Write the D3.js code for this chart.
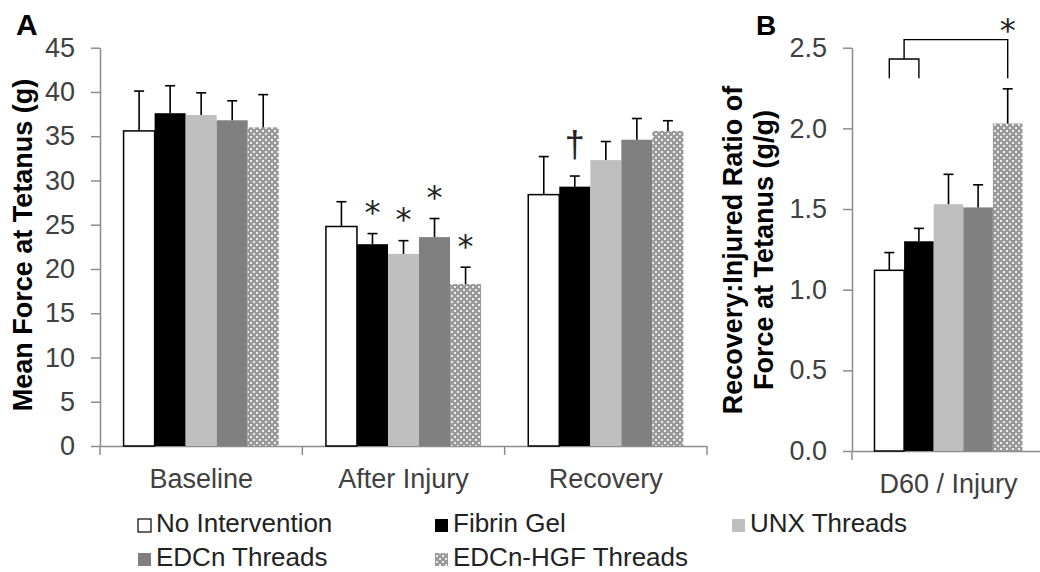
<!DOCTYPE html>
<html>
<head>
<meta charset="utf-8">
<script src="https://cdn.jsdelivr.net/npm/d3@7"></script>
<style>
  body { margin: 0; background: #fff; }
  svg { display: block; font-family: "Liberation Sans", Arial, sans-serif; }
  .axis path, .axis line { stroke: #8c8c8c; stroke-width: 1.5; }
  .axis text { fill: #404040; font-size: 27px; font-family: "Liberation Sans", Arial, sans-serif; }
  .err { stroke: #000; stroke-width: 1.6; fill: none; }
  .title { font-weight: bold; font-size: 27px; fill: #000; }
</style>
</head>
<body>
<div id="chart"></div>
<script>

// panel A: mean force at tetanus (g)
var groups = ["Baseline", "After Injury", "Recovery"];
var seriesNames = ["No Intervention", "Fibrin Gel", "UNX Threads", "EDCn Threads", "EDCn-HGF Threads"];

var noIntervention    = [35.6, 24.8, 28.4];
var noInterventionErr = [4.5, 2.8, 4.3];
var fibrinGel         = [37.6, 22.8, 29.3];
var fibrinGelErr      = [3.1, 1.2, 1.2];
var unxThreads        = [37.4, 21.7, 32.3];
var unxThreadsErr     = [2.5, 1.5, 2.1];
var edcnThreads       = [36.8, 23.6, 34.6];
var edcnThreadsErr    = [2.2, 2.1, 2.4];
var hgfThreads        = [36.0, 18.3, 35.6];
var hgfThreadsErr     = [3.7, 1.9, 1.15];

// significance marks per group, one per series
var marksBaseline    = ["", "", "", "", ""];
var marksAfterInjury = ["", "*", "*", "*", "*"];
var marksRecovery    = ["", "\u2020", "", "", ""];

var forceTicks = [0, 5, 10, 15, 20, 25, 30, 35, 40, 45];

// panel B: recovery : injured ratio
var ratioGroup = ["D60 / Injury"];
var ratioMeans = [1.12, 1.30, 1.53, 1.51, 2.03];
var ratioErr   = [0.11, 0.08, 0.185, 0.14, 0.215];
var ratioTicks = [0, 0.5, 1.0, 1.5, 2.0, 2.5];
// bracket levels (g/g) for the comparison marker
var bracketLow = 2.31, bracketMid = 2.43, bracketTop = 2.55;

var fills = ["#ffffff", "#000000", "#bfbfbf", "#808080", "url(#hatch)"];

var means = [noIntervention, fibrinGel, unxThreads, edcnThreads, hgfThreads];
var errs = [noInterventionErr, fibrinGelErr, unxThreadsErr, edcnThreadsErr, hgfThreadsErr];
var marks = [marksBaseline, marksAfterInjury, marksRecovery];

var rowsA = [];
groups.forEach(function (g, gi) {
    seriesNames.forEach(function (s, si) {
        rowsA.push({ group: g, series: s, si: si, mean: means[si][gi], err: errs[si][gi], mark: marks[gi][si] });
    });
});
var rowsB = seriesNames.map(function (s, si) {
    return { group: ratioGroup[0], series: s, si: si, mean: ratioMeans[si], err: ratioErr[si] };
});

var svg = d3.select("#chart").append("svg")
    .attr("width", 1040)
    .attr("height", 572);

svg.append("rect").attr("width", 1040).attr("height", 572).attr("fill", "#fff");

var pat = svg.append("defs").append("pattern")
    .attr("id", "hatch")
    .attr("patternUnits", "userSpaceOnUse")
    .attr("width", 6).attr("height", 6);
pat.append("rect").attr("width", 6).attr("height", 6).attr("fill", "#9a9a9a");
pat.append("rect").attr("x", 1).attr("y", 1).attr("width", 2).attr("height", 2).attr("fill", "#ececec");
pat.append("rect").attr("x", 4).attr("y", 4).attr("width", 2).attr("height", 2).attr("fill", "#ececec");

function drawPanel(opts) {
    var x = d3.scaleBand().domain(opts.groups).range(opts.xRange);
    var xs = d3.scaleBand().domain(seriesNames).range([0, x.bandwidth()]).paddingOuter(0.76);
    var y = d3.scaleLinear().domain(opts.yDomain).range(opts.yRange);

    var yAxis = d3.axisLeft(y).tickValues(opts.ticks).tickFormat(opts.fmt)
        .tickSize(9).tickSizeOuter(0).tickPadding(16);
    svg.append("g").attr("class", "axis")
        .attr("transform", "translate(" + opts.xRange[0] + ",0)")
        .call(yAxis);

    var xAxis = d3.axisBottom(x).tickSize(0).tickSizeOuter(0).tickPadding(23);
    var gx = svg.append("g").attr("class", "axis")
        .attr("transform", "translate(0," + opts.yRange[0] + ")")
        .call(xAxis);
    // category boundary ticks
    var bounds = opts.groups.map(function (g) { return x(g); }).concat([opts.xRange[1]]);
    gx.selectAll(".bound").data(bounds).enter()
        .append("line").attr("class", "bound")
        .attr("x1", function (d) { return d; }).attr("x2", function (d) { return d; })
        .attr("y1", 0).attr("y2", 9);

    var bars = svg.append("g");
    bars.selectAll("rect").data(opts.rows).enter()
        .append("rect")
        .attr("x", function (d) { return x(d.group) + xs(d.series); })
        .attr("width", xs.bandwidth())
        .attr("y", function (d) { return y(d.mean); })
        .attr("height", function (d) { return y(0) - y(d.mean); })
        .attr("fill", function (d) { return fills[d.si]; })
        .attr("stroke", function (d) { return d.si === 0 ? "#000" : "none"; })
        .attr("stroke-width", 1.5);

    var cx = function (d) { return x(d.group) + xs(d.series) + xs.bandwidth() / 2; };
    var eb = svg.append("g").attr("class", "err");
    eb.selectAll(".v").data(opts.rows).enter()
        .append("line").attr("class", "err")
        .attr("x1", cx).attr("x2", cx)
        .attr("y1", function (d) { return y(d.mean); })
        .attr("y2", function (d) { return y(d.mean + d.err); });
    eb.selectAll(".c").data(opts.rows).enter()
        .append("line").attr("class", "err")
        .attr("x1", function (d) { return cx(d) - 5; })
        .attr("x2", function (d) { return cx(d) + 5; })
        .attr("y1", function (d) { return y(d.mean + d.err); })
        .attr("y2", function (d) { return y(d.mean + d.err); });

    return { x: x, xs: xs, y: y, cx: cx };
}

var A = drawPanel({
    groups: groups, rows: rowsA, xRange: [100, 707], yDomain: [0, 45], yRange: [446, 47.7],
    ticks: forceTicks, fmt: d3.format("d")
});

var B = drawPanel({
    groups: ratioGroup, rows: rowsB, xRange: [852, 1045], yDomain: [0, 2.5], yRange: [451, 47.7],
    ticks: ratioTicks, fmt: d3.format(".1f")
});

// significance marks in panel A
svg.append("g").selectAll("text")
    .data(rowsA.filter(function (d) { return d.mark; })).enter()
    .append("text")
    .attr("x", A.cx)
    .attr("y", function (d) {
        var c = A.y(d.mean + d.err) - 29;
        return d.mark === "*" ? c + 0.58 * 32 : c + 0.27 * 36;
    })
    .attr("text-anchor", "middle")
    .style("font-family", function (d) { return d.mark === "*" ? "DejaVu Sans" : "Liberation Sans"; })
    .style("font-size", function (d) { return d.mark === "*" ? "32px" : "36px"; })
    .attr("fill", "#222")
    .text(function (d) { return d.mark; });

// comparison bracket in panel B
var bx0 = B.cx(rowsB[0]), bx1 = B.cx(rowsB[1]), bx4 = B.cx(rowsB[4]);
var bmid = (bx0 + bx1) / 2;
var br = d3.path();
br.moveTo(bx0, B.y(bracketLow)); br.lineTo(bx0, B.y(bracketMid));
br.lineTo(bx1, B.y(bracketMid)); br.lineTo(bx1, B.y(bracketLow));
br.moveTo(bmid, B.y(bracketMid)); br.lineTo(bmid, B.y(bracketTop));
br.lineTo(bx4, B.y(bracketTop)); br.lineTo(bx4, B.y(bracketLow));
svg.append("path").attr("d", br.toString())
    .attr("fill", "none").attr("stroke", "#000").attr("stroke-width", 1.4);
svg.append("text")
    .attr("x", bx4).attr("y", B.y(bracketTop) - 17 + 0.58 * 32)
    .attr("text-anchor", "middle")
    .style("font-family", "DejaVu Sans").style("font-size", "32px")
    .attr("fill", "#222").text("*");

// panel letters and axis titles
svg.append("text").attr("class", "title").attr("x", 16).attr("y", 35).style("font-size", "30px").text("A");
svg.append("text").attr("class", "title").attr("x", 756).attr("y", 35).style("font-size", "28px").text("B");

svg.append("text").attr("class", "title")
    .attr("transform", "translate(32,245) rotate(-90)")
    .attr("text-anchor", "middle")
    .text("Mean Force at Tetanus (g)");

svg.append("text").attr("class", "title")
    .attr("transform", "translate(742,250) rotate(-90)")
    .attr("text-anchor", "middle")
    .text("Recovery:Injured Ratio of");
svg.append("text").attr("class", "title")
    .attr("transform", "translate(773,250) rotate(-90)")
    .attr("text-anchor", "middle")
    .text("Force at Tetanus (g/g)");

// legend
var legX = [138, 435, 732], legY = [532, 566];
var leg = svg.append("g").selectAll("g").data(seriesNames).enter()
    .append("g")
    .attr("transform", function (d, i) { return "translate(" + legX[i % 3] + "," + legY[Math.floor(i / 3)] + ")"; });
leg.append("rect")
    .attr("x", 0).attr("y", -13).attr("width", 13).attr("height", 13)
    .attr("fill", function (d, i) { return fills[i]; })
    .attr("stroke", function (d, i) { return i === 0 ? "#000" : "none"; })
    .attr("stroke-width", 1.2);
leg.append("text")
    .attr("x", 18).attr("y", 0)
    .style("font-size", "26px").attr("fill", "#222")
    .text(function (d) { return d; });

</script>
</body>
</html>
